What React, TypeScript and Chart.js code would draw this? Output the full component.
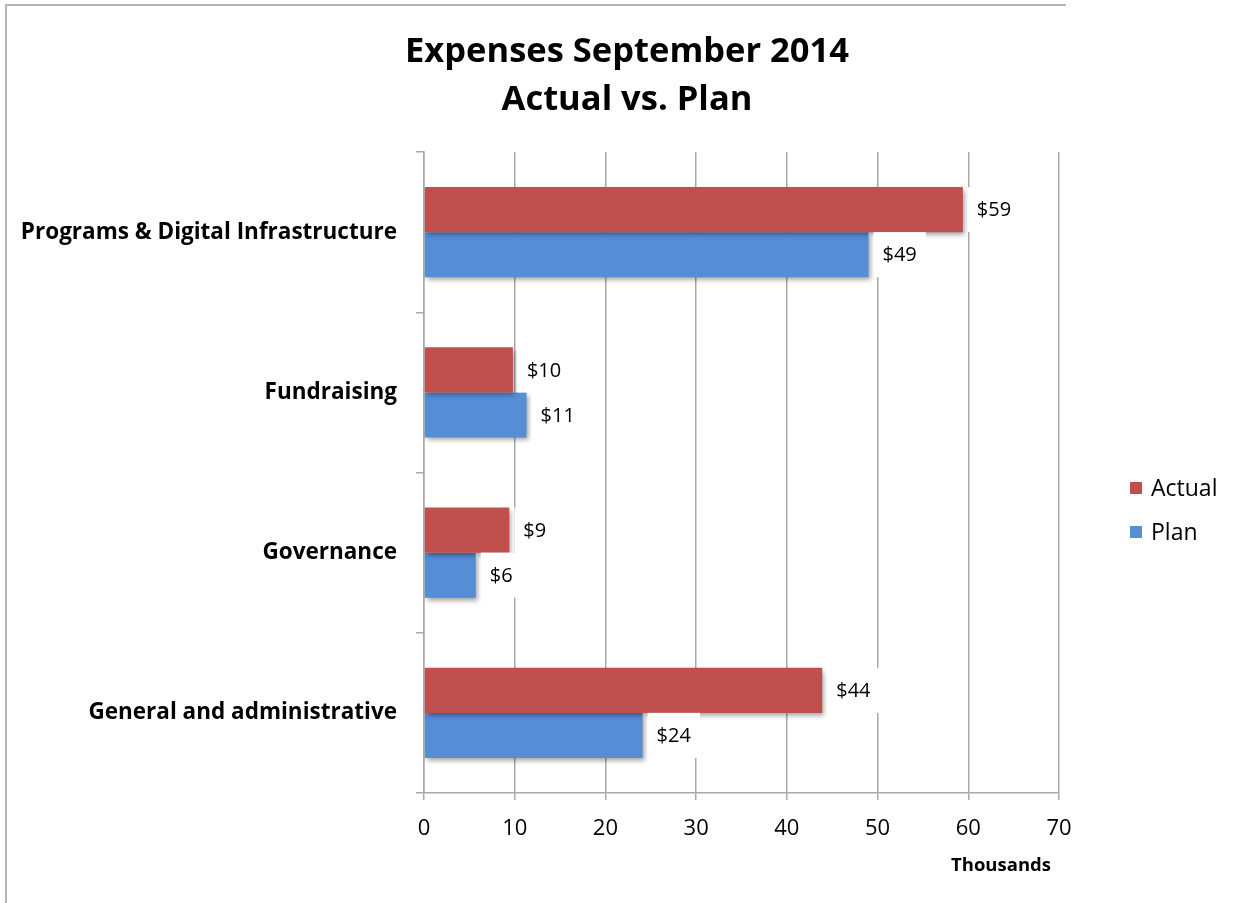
import React, { useEffect, useRef } from "react";
import { Chart, registerables } from "chart.js";

Chart.register(...registerables);

const categories = [
  "Programs & Digital Infrastructure",
  "Fundraising",
  "Governance",
  "General and administrative",
];
const actualValues = [59.4, 9.8, 9.4, 43.9];
const planValues = [49.0, 11.3, 5.7, 24.1];
const titleLines = ["Expenses September 2014", "Actual vs. Plan"];
const seriesNames = ["Actual", "Plan"];
const seriesColors = ["#C0504D", "#558ED5"];
const axisTitle = "Thousands";

const FONT = "'Open Sans', Lato, sans-serif";
const GRID = "#A8A8A8";

const decorPlugin = {
  id: "decor",
  beforeDraw(chart: any) {
    const ctx = chart.ctx;
    ctx.save();
    ctx.fillStyle = "#ffffff";
    ctx.fillRect(0, 0, chart.width, chart.height);
    ctx.strokeStyle = "#B4B4B4";
    ctx.lineWidth = 2;
    ctx.beginPath();
    ctx.moveTo(6, chart.height);
    ctx.lineTo(6, 5);
    ctx.lineTo(1066, 5);
    ctx.stroke();
    ctx.restore();
  },
  beforeDatasetDraw(chart: any) {
    const ctx = chart.ctx;
    ctx.save();
    ctx.shadowColor = "rgba(0,0,0,0.38)";
    ctx.shadowBlur = 5;
    ctx.shadowOffsetX = 2;
    ctx.shadowOffsetY = 3;
  },
  afterDatasetDraw(chart: any) {
    chart.ctx.restore();
  },
  afterDatasetsDraw(chart: any) {
    const ctx = chart.ctx;
    ctx.save();
    ctx.font = `20px ${FONT}`;
    ctx.textBaseline = "middle";
    ctx.textAlign = "left";
    chart.data.datasets.forEach((ds: any, di: number) => {
      const meta = chart.getDatasetMeta(di);
      meta.data.forEach((bar: any, i: number) => {
        const v = ds.data[i];
        const text = "$" + Math.round(v);
        const w = ctx.measureText(text).width;
        const h = bar.height;
        ctx.fillStyle = "#ffffff";
        ctx.fillRect(bar.x + 5, bar.y - h / 2, w + 18, h);
        ctx.fillStyle = "#000000";
        ctx.fillText(text, bar.x + 14, bar.y + 1);
      });
    });
    ctx.restore();
  },
  afterDraw(chart: any) {
    const ctx = chart.ctx;
    ctx.save();
    ctx.fillStyle = "#000000";
    ctx.textAlign = "center";
    ctx.textBaseline = "middle";
    ctx.font = `bold 34.5px ${FONT}`;
    ctx.fillText(titleLines[0], 627, 52);
    ctx.fillText(titleLines[1], 627, 100);

    ctx.font = `bold 18.5px ${FONT}`;
    ctx.fillText(axisTitle, 1001, 866);

    ctx.textAlign = "left";
    ctx.font = `23px ${FONT}`;
    seriesNames.forEach((name, i) => {
      const y = 488 + i * 44;
      ctx.fillStyle = seriesColors[i];
      ctx.fillRect(1130, y - 6, 12, 12);
      ctx.fillStyle = "#000000";
      ctx.fillText(name, 1151, y + 1);
    });
    ctx.restore();
  },
};

export default function App() {
  const ref = useRef<HTMLCanvasElement>(null);
  useEffect(() => {
    document.body.style.margin = "0";
    const chart = new Chart(ref.current as HTMLCanvasElement, {
      type: "bar",
      data: {
        labels: categories,
        datasets: [
          {
            label: seriesNames[0],
            data: actualValues,
            backgroundColor: seriesColors[0],
            barPercentage: 1,
            categoryPercentage: 0.5625,
          },
          {
            label: seriesNames[1],
            data: planValues,
            backgroundColor: seriesColors[1],
            barPercentage: 1,
            categoryPercentage: 0.5625,
          },
        ],
      },
      options: {
        indexAxis: "y",
        animation: false,
        responsive: false,
        devicePixelRatio: 1,
        layout: { padding: { top: 152, right: 186, left: 0, bottom: 0 } },
        plugins: {
          legend: { display: false },
          title: { display: false },
          tooltip: { enabled: false },
        },
        scales: {
          x: {
            min: 0,
            max: 70,
            ticks: {
              stepSize: 10,
              color: "#000",
              padding: 16,
              font: { family: FONT, size: 22 },
            },
            grid: { color: GRID, lineWidth: 1.5, tickLength: 7 },
            border: { color: GRID, width: 1.5 },
            afterFit(scale: any) {
              scale.height = 110;
            },
          },
          y: {
            ticks: {
              color: "#000",
              padding: 19,
              font: { family: FONT, size: 22.5, weight: "bold" },
            },
            grid: {
              color: GRID,
              lineWidth: 1.5,
              drawOnChartArea: false,
              tickLength: 8,
              offset: true,
            },
            border: { color: GRID, width: 1.5 },
            afterFit(scale: any) {
              scale.width = 424;
            },
          },
        },
      } as any,
      plugins: [decorPlugin],
    });
    return () => chart.destroy();
  }, []);
  return <canvas ref={ref} width={1245} height={903} style={{ display: "block" }} />;
}
